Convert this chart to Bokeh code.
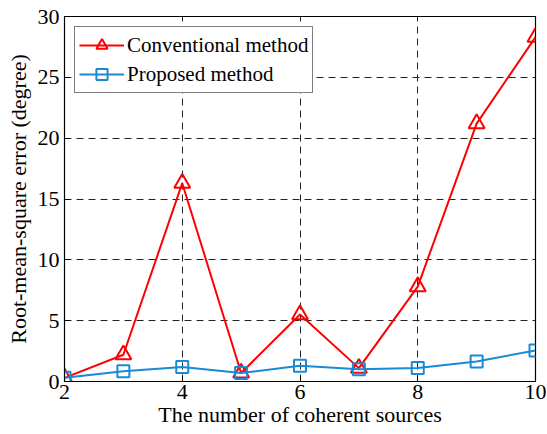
from bokeh.plotting import figure
from bokeh.embed import file_html
from bokeh.resources import INLINE
from bokeh.models import FixedTicker, Range1d, Legend, LegendItem

sources = [2, 3, 4, 5, 6, 7, 8, 9, 10]
conventional = [0.3, 2.2, 16.3, 0.7, 5.5, 1.1, 7.8, 21.2, 28.3]
proposed = [0.3, 0.85, 1.2, 0.7, 1.3, 1.0, 1.1, 1.65, 2.55]
x_ticks = [2, 4, 6, 8, 10]
y_ticks = [0, 5, 10, 15, 20, 25, 30]

FONT = "Liberation Serif"
RED = "#ff0000"
BLUE = "#1a8ad4"

p = figure(width=547, height=434, output_backend="svg", toolbar_location=None,
           x_range=Range1d(2, 10), y_range=Range1d(0, 30),
           min_border_left=64, min_border_right=12, min_border_top=16, min_border_bottom=53)
p.background_fill_color = "white"
p.border_fill_color = "white"
p.outline_line_color = "black"
p.outline_line_width = 1.2

r1l = p.line(sources, conventional, line_color=RED, line_width=2)
r1m = p.scatter(sources, conventional, marker="triangle", size=16, line_color=RED,
                fill_color=None, line_width=2)
r2l = p.line(sources, proposed, line_color=BLUE, line_width=2)
r2m = p.scatter(sources, proposed, marker="square", size=12, line_color=BLUE,
                fill_color=None, line_width=2)

xax = p.below[0]
yax = p.left[0]
for ax in (xax, yax):
    ax.major_tick_in = 5
    ax.major_tick_out = 0
    ax.minor_tick_in = 0
    ax.minor_tick_out = 0
    ax.axis_line_color = "black"
    ax.major_tick_line_color = "black"
    ax.major_label_text_font = FONT
    ax.major_label_text_font_size = "22px"
    ax.major_label_text_color = "black"
    ax.axis_label_text_font = FONT
    ax.axis_label_text_font_size = "22px"
    ax.axis_label_text_font_style = "normal"
    ax.axis_label_text_color = "black"

xax.ticker = FixedTicker(ticks=x_ticks)
yax.ticker = FixedTicker(ticks=y_ticks)
xax.axis_label = "The number of coherent sources"
yax.axis_label = "Root-mean-square error (degree)"
xax.major_label_standoff = 3
yax.major_label_standoff = 5
xax.axis_label_standoff = 0
yax.axis_label_standoff = 4

for g in (p.xgrid[0], p.ygrid[0]):
    g.grid_line_color = "#222222"
    g.grid_line_dash = "7 5"
    g.grid_line_width = 1

legend = Legend(items=[
    LegendItem(label="Conventional method", renderers=[r1l, r1m]),
    LegendItem(label="Proposed method", renderers=[r2l, r2m]),
], location="top_left")
legend.margin = 10
legend.padding = 4
legend.spacing = 1
legend.glyph_width = 45
legend.glyph_height = 28
legend.label_text_font = FONT
legend.label_text_font_size = "21px"
legend.label_text_color = "black"
legend.label_standoff = 3
legend.border_line_color = "black"
legend.border_line_width = 1.5
legend.background_fill_alpha = 1
p.add_layout(legend)

open("out.html", "w").write(file_html(p, INLINE))
